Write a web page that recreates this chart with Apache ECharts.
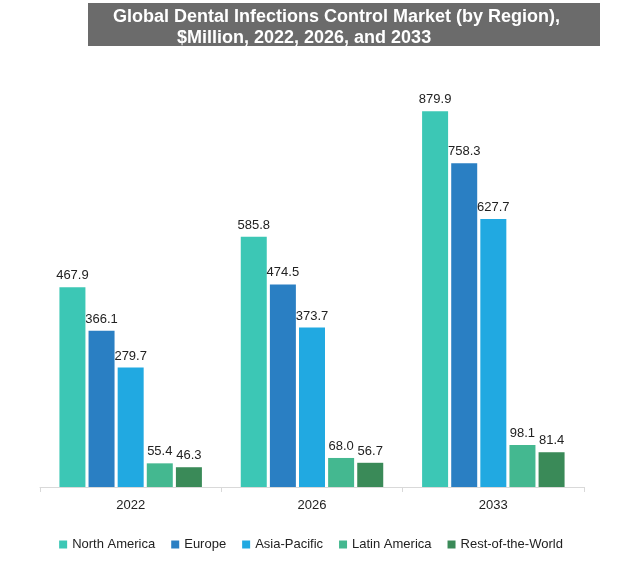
<!DOCTYPE html>
<html>
<head>
<meta charset="utf-8">
<script src="https://cdn.jsdelivr.net/npm/echarts@6/dist/echarts.min.js"></script>
<style>html,body{margin:0;padding:0;background:#fff}#c{width:622px;height:570px}</style>
</head>
<body>
<div id="c"></div>
<script>
const years = ['2022', '2026', '2033'];
const seriesNames = ['North America', 'Europe', 'Asia-Pacific', 'Latin America', 'Rest-of-the-World'];
const northAmerica = [467.9, 585.8, 879.9];
const europe = [366.1, 474.5, 758.3];
const asiaPacific = [279.7, 373.7, 627.7];
const latinAmerica = [55.4, 68.0, 98.1];
const restOfWorld = [46.3, 56.7, 81.4];
const titleLine1 = 'Global Dental Infections Control Market (by Region),';
const titleLine2 = '$Million, 2022, 2026, and 2033';

const colors = ['#3CC7B5', '#2A7FC3', '#21A9E1', '#44B890', '#3A8A58'];
const values = [northAmerica, europe, asiaPacific, latinAmerica, restOfWorld];
const FONT = '"Liberation Sans", Arial, sans-serif';

const chart = echarts.init(document.getElementById('c'));
chart.setOption({
  animation: false,
  color: colors,
  graphic: [
    { type: 'rect', left: 88, top: 3, shape: { width: 512, height: 43 }, style: { fill: '#6b6b6b' } },
    { type: 'text', left: 113, top: 8, style: { text: titleLine1, fill: '#fff', font: 'bold 18px ' + FONT } },
    { type: 'text', left: 177, top: 29, style: { text: titleLine2, fill: '#fff', font: 'bold 18px ' + FONT } }
  ],
  grid: { left: 40, right: 38, top: 60, bottom: 83, containLabel: false },
  legend: {
    bottom: 14, left: 'center',
    itemWidth: 8, itemHeight: 8, itemGap: 16,
    icon: 'rect',
    textStyle: { fontSize: 13, color: '#222', fontFamily: FONT, padding: [0, 0, 0, 0] },
    data: seriesNames
  },
  xAxis: {
    type: 'category', data: years,
    axisLine: { lineStyle: { color: '#d9d9d9' } },
    axisTick: { show: true, length: 5, lineStyle: { color: '#d9d9d9' } },
    axisLabel: { fontSize: 13, color: '#222', fontFamily: FONT, margin: 12 }
  },
  yAxis: { type: 'value', min: 0, max: 1000, show: false, splitLine: { show: false } },
  series: seriesNames.map((n, i) => ({
    name: n, type: 'bar', data: values[i],
    barWidth: 26, barGap: '12%', barCategoryGap: '21%',
    label: { show: true, position: 'top', distance: 5, fontSize: 13, color: '#222', fontFamily: FONT, formatter: p => p.value.toFixed(1) }
  }))
});
</script>
</body>
</html>
